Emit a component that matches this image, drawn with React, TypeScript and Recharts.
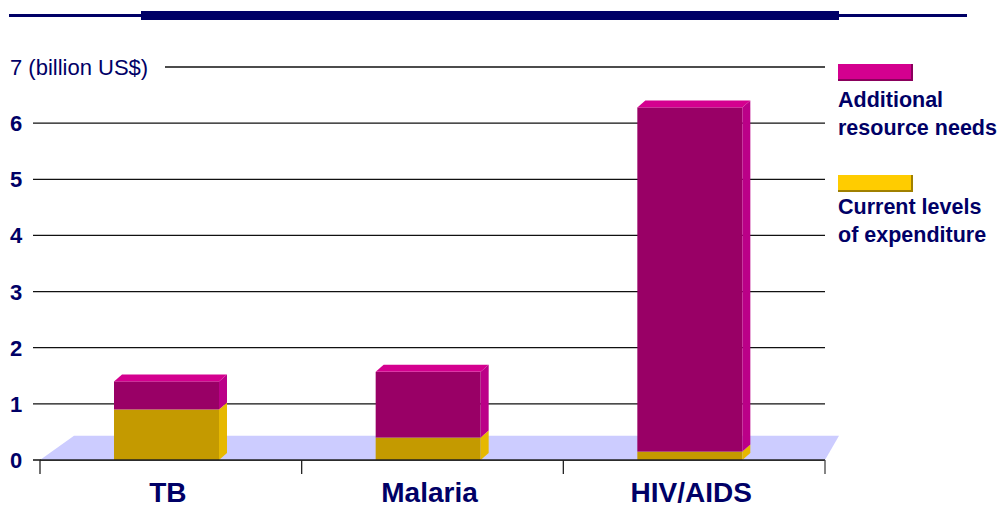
import { BarChart, Bar, XAxis, YAxis, CartesianGrid, ReferenceArea } from 'recharts';

const categories = ['TB', 'Malaria', 'HIV/AIDS'];
const currentLevels = [0.9, 0.4, 0.15];
const additionalNeeds = [0.5, 1.17, 6.13];
const yTicks = [0, 1, 2, 3, 4, 5, 6, 7];
const floorTop = 0.43;

const NAVY = '#000066';
const FONT = '"Liberation Sans", Arial, sans-serif';
const MARGIN = { top: 67, right: 172, left: 0, bottom: 0 };
const DX = 8;
const DY = 7;

const chartData = categories.map((name, i) => ({
  name,
  current: currentLevels[i],
  additional: additionalNeeds[i],
}));

const makeBox = (front: string, side: string, top: string | null) => (props: any) => {
  const { x, y, width, height } = props;
  if (!height || height <= 0) return null;
  const fx = x - DX / 2;
  const r = fx + width;
  return (
    <g>
      <rect x={fx} y={y} width={width} height={height} fill={front} />
      <polygon
        points={`${r},${y + height} ${r + DX},${y + height - DY} ${r + DX},${y - DY} ${r},${y}`}
        fill={side}
      />
      {top && (
        <polygon points={`${fx},${y} ${fx + DX},${y - DY} ${r + DX},${y - DY} ${r},${y}`} fill={top} />
      )}
    </g>
  );
};

const CurrentShape = makeBox('#c49a00', '#e6b800', null);
const AdditionalShape = makeBox('#990066', '#bb0088', '#d4008f');

const FloorShape = (props: any) => {
  const { x, y, width, height } = props;
  return (
    <polygon
      points={`${x},${y + height} ${x + 34},${y} ${x + width + 14},${y} ${x + width},${y + height}`}
      fill="#ccccff"
    />
  );
};

const YTick = (props: any) => {
  const { y, payload } = props;
  const top = payload.value === 7;
  return (
    <text
      x={10}
      y={y}
      dy={8}
      fill={NAVY}
      fontFamily={FONT}
      fontSize={22}
      fontWeight={top ? 'normal' : 'bold'}
      textAnchor="start"
    >
      {top ? '7 (billion US$)' : payload.value}
    </text>
  );
};

const XTick = (props: any) => {
  const { x, y, payload, index } = props;
  const half = payload.offset ?? 131;
  return (
    <g>
      <line x1={x - half} y1={y} x2={x - half} y2={y + 14} stroke="#222" strokeWidth={1.3} />
      {index === categories.length - 1 && (
        <line x1={x + half} y1={y} x2={x + half} y2={y + 14} stroke="#444" strokeWidth={1.3} />
      )}
      <text x={x - 3} y={y + 42} fill={NAVY} fontFamily={FONT} fontSize={28} fontWeight="bold" textAnchor="middle">
        {payload.value}
      </text>
    </g>
  );
};

const GridLine = (p: any) => {
  const isTop = p.y1 <= MARGIN.top + 1;
  return (
    <line
      key={p.key}
      x1={isTop ? p.x1 + 125 : p.x1 - 7}
      y1={p.y1}
      x2={p.x2}
      y2={p.y2}
      stroke="#111"
      strokeWidth={1.3}
    />
  );
};

const legendItems = [
  { key: 'additional', lines: ['Additional', 'resource needs'], color: '#d4008f', edge: '#8a005c', top: 64, gap: 5 },
  { key: 'current', lines: ['Current levels', 'of expenditure'], color: '#ffcc00', edge: '#a08000', top: 175, gap: 1 },
];

const ChartLegend = () => (
  <>
    {legendItems.map((it) => (
      <div
        key={it.key}
        style={{ position: 'absolute', left: 838, top: it.top, fontFamily: FONT, color: NAVY, whiteSpace: 'nowrap' }}
      >
        <div
          style={{
            width: 73,
            height: 15,
            background: it.color,
            borderRight: `2px solid ${it.edge}`,
            borderBottom: `2px solid ${it.edge}`,
            marginBottom: it.gap,
          }}
        />
        {it.lines.map((l) => (
          <div key={l} style={{ fontSize: 21.5, fontWeight: 'bold', lineHeight: '28px' }}>
            {l}
          </div>
        ))}
      </div>
    ))}
  </>
);

export default function App() {
  return (
    <div style={{ position: 'absolute', left: 0, top: 0, width: 997, height: 509, background: '#fff' }}>
      <div style={{ position: 'absolute', left: 9, top: 14, width: 958, height: 3, background: NAVY }} />
      <div style={{ position: 'absolute', left: 141, top: 11, width: 698, height: 9, background: NAVY }} />
      <BarChart
        width={997}
        height={509}
        data={chartData}
        margin={MARGIN}
        barSize={105}
        barGap={0}
        style={{ overflow: 'visible' }}
      >
        <CartesianGrid vertical={false} horizontal={GridLine} />
        <ReferenceArea y1={0} y2={floorTop} shape={FloorShape} ifOverflow="visible" />
        <YAxis
          width={40}
          domain={[0, 7]}
          ticks={yTicks}
          interval={0}
          axisLine={false}
          tickLine={false}
          tick={<YTick />}
        />
        <XAxis
          dataKey="name"
          height={49}
          tickSize={0}
          tickMargin={0}
          tickLine={false}
          axisLine={{ stroke: '#222', strokeWidth: 1.5 }}
          tick={<XTick />}
          interval={0}
        />
        <Bar dataKey="current" stackId="a" fill="#ffcc00" shape={CurrentShape} isAnimationActive={false} />
        <Bar dataKey="additional" stackId="a" fill="#d4008f" shape={AdditionalShape} isAnimationActive={false} />
      </BarChart>
      <ChartLegend />
    </div>
  );
}
